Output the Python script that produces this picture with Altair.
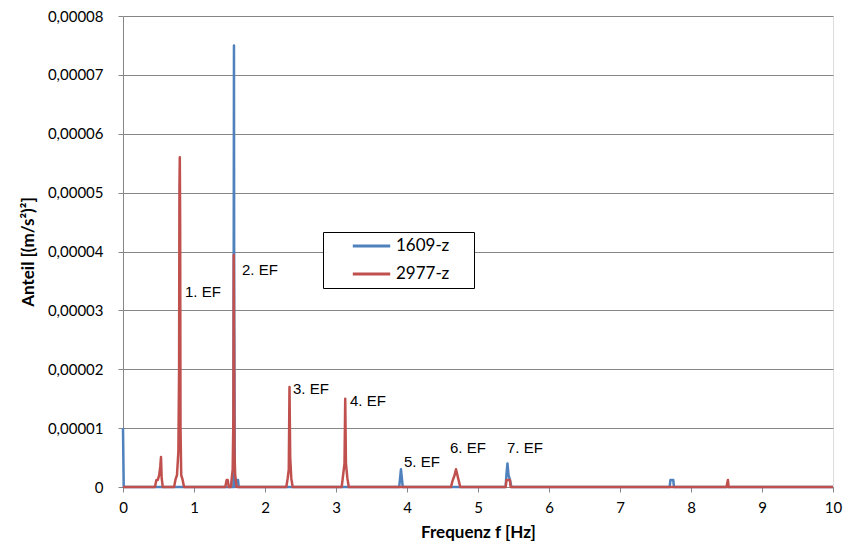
import altair as alt
import pandas as pd

# Series 1609-z (blue)
blue_f = [0, 0.01, 1.50, 1.555, 1.56, 1.563, 1.566, 1.575, 1.60, 1.62, 1.63,
          3.89, 3.90, 3.915, 3.93, 3.94, 5.39, 5.40, 5.415, 5.43, 5.45, 5.47,
          7.70, 7.71, 7.75, 7.76, 10]
blue_v = [1.0e-5, 0, 0, 0, 4.5e-5, 7.5e-5, 3.0e-5, 0, 1.2e-6, 1.2e-6, 0,
          0, 1.2e-6, 3.0e-6, 1.2e-6, 0, 0, 2.0e-6, 4.0e-6, 2.0e-6, 1.2e-6, 0,
          0, 1.2e-6, 1.2e-6, 0, 0]

# Series 2977-z (red)
red_f = [0, 0.45, 0.47, 0.49, 0.51, 0.525, 0.535, 0.545, 0.56,
         0.72, 0.74, 0.76, 0.78, 0.79, 0.795, 0.80, 0.805, 0.81, 0.82, 0.84, 0.86,
         1.44, 1.46, 1.475, 1.49,
         1.52, 1.53, 1.545, 1.555, 1.56, 1.565, 1.57, 1.58, 1.60,
         2.30, 2.32, 2.335, 2.345, 2.355, 2.37, 2.39,
         3.08, 3.10, 3.12, 3.13, 3.14, 3.16, 3.18,
         4.62, 4.64, 4.67, 4.69, 4.71, 4.73, 4.75,
         5.39, 5.40, 5.45, 5.46,
         8.50, 8.52, 8.53, 10]
red_v = [0, 0, 1.2e-6, 1.2e-6, 2.0e-6, 3.5e-6, 5.1e-6, 1.5e-6, 0,
         0, 1.3e-6, 2.0e-6, 6.0e-6, 2.0e-5, 5.1e-5, 5.6e-5, 4.5e-5, 1.0e-5, 2.0e-6, 1.2e-6, 0,
         0, 1.2e-6, 1.2e-6, 0,
         0, 1.3e-6, 3.0e-6, 1.2e-5, 3.94e-5, 2.5e-5, 6.0e-6, 2.0e-6, 0,
         0, 1.5e-6, 3.0e-6, 1.7e-5, 5.0e-6, 1.5e-6, 0,
         0, 2.0e-6, 4.0e-6, 1.5e-5, 4.0e-6, 1.5e-6, 0,
         0, 1.0e-6, 2.0e-6, 3.0e-6, 2.0e-6, 1.0e-6, 0,
         0, 1.2e-6, 1.2e-6, 0,
         0, 1.2e-6, 0, 0]

# Annotations
ann_text = ["1. EF", "2. EF", "3. EF", "4. EF", "5. EF", "6. EF", "7. EF"]
ann_f = [0.873, 1.676, 2.394, 3.197, 3.958, 4.606, 5.408]
ann_v = [3.31e-5, 3.68e-5, 1.66e-5, 1.46e-5, 4.2e-6, 6.6e-6, 6.6e-6]

series_names = ["1609-z", "2977-z"]
series_colors = ["#4F81BD", "#C0504D"]

df_blue = pd.DataFrame({"f": blue_f, "v": blue_v, "s": "1609-z"})
df_red = pd.DataFrame({"f": red_f, "v": red_v, "s": "2977-z"})
df_ann = pd.DataFrame({"f": ann_f, "v": ann_v, "t": ann_text})

xscale = alt.Scale(domain=[0, 10], nice=False, zero=False)
yscale = alt.Scale(domain=[0, 0.00008], nice=False)
color = alt.Color(
    "s:N",
    scale=alt.Scale(domain=series_names, range=series_colors),
    legend=alt.Legend(
        title=None, orient="none", legendX=200, legendY=216,
        direction="vertical", symbolType="stroke", symbolSize=1400,
        symbolStrokeWidth=3, labelFontSize=17, labelFont="Lato",
        labelColor="#000000", strokeColor="#000000", fillColor="#ffffff",
        padding=0, rowPadding=0, labelOffset=4, symbolOffset=28, clipHeight=28,
        labelExpr="datum.label + '\u2800\u2800'",
    ),
)

x = alt.X("f:Q", scale=xscale, title="Frequenz f [Hz]",
          axis=alt.Axis(values=list(range(0, 11)), format="d", grid=False, labelFontSize=15,
                        labelFont="Lato", labelColor="#000000", titleFont="Lato",
                        titleFontSize=17, titleFontWeight="bold", titleColor="#000000",
                        domainColor="#868686", tickColor="#868686", tickSize=5,
                        labelPadding=8, titlePadding=9, labelFlush=False))
y = alt.Y("v:Q", scale=yscale, title="Anteil [(m/s²)²]",
          axis=alt.Axis(values=[i * 1e-5 for i in range(0, 9)], grid=True,
                        gridColor="#868686", gridWidth=1,
                        labelExpr="datum.value == 0 ? '0' : replace(format(datum.value, '.5f'), '.', ',')",
                        labelFontSize=15, labelFont="Lato", labelColor="#000000",
                        titleFont="Lato", titleFontSize=17, titleFontWeight="bold",
                        titleColor="#000000", domainColor="#868686", tickColor="#868686",
                        tickSize=5, labelPadding=15, titlePadding=10))

blue = alt.Chart(df_blue).mark_line(strokeWidth=2.5, strokeJoin="round").encode(
    x=x, y=y, color=color)
red = alt.Chart(df_red).mark_line(strokeWidth=2.5, strokeJoin="round").encode(
    x=x, y=y, color=color)
ann = alt.Chart(df_ann).mark_text(align="left", baseline="middle", font="Liberation Sans",
                                  fontSize=15, color="#000000").encode(
    x=alt.X("f:Q", scale=xscale), y=alt.Y("v:Q", scale=yscale), text="t:N")

chart = alt.layer(blue, red, ann).properties(
    width=710, height=471,
    autosize=alt.AutoSizeParams(type="none"),
    padding={"left": 115, "top": 8, "right": 17, "bottom": 60},
).configure_view(stroke=None).configure(background="#ffffff")

chart.save("out.html", embed_options={"renderer": "svg", "actions": False})
